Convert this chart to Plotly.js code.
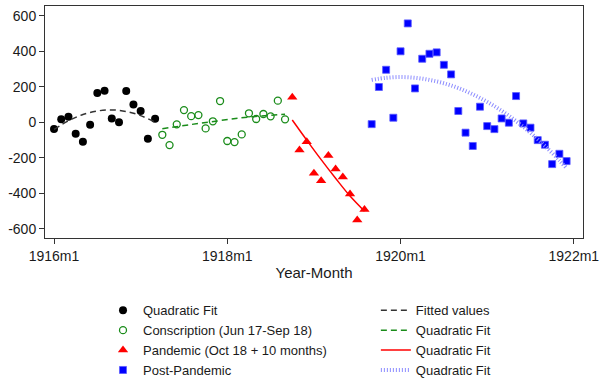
<!DOCTYPE html>
<html>
<head>
<meta charset="utf-8">
<script src="https://cdn.plot.ly/plotly-3.0.1.min.js"></script>
<style>html,body{margin:0;padding:0;background:#fff;}#chart{width:600px;height:379px;}</style>
</head>
<body>
<div id="chart"></div>
<script>
// Month index: 0 = 1916m1
var blackMonths = [0,1,2,3,4,5,6,7,8,9,10,11,12,13,14];
var blackValues = [-38,18,32,-64,-109,-13,165,178,22,0,176,101,64,-92,20];

var greenMonths = [15,16,17,18,19,20,21,22,23,24,25,26,27,28,29,30,31,32];
var greenValues = [-70,-128,-11,69,35,41,-34,6,120,-105,-111,-68,51,19,47,34,122,17];

var redMonths = [33,34,35,36,37,38,39,40,41,42,43];
var redValues = [141,-156,-109,-287,-329,-186,-263,-308,-404,-550,-490];

var blueMonths = [44,45,46,47,48,49,50,51,52,53,54,55,56,57,58,59,60,61,62,63,64,65,66,67,68,69,70,71];
var blueValues = [-10,199,296,26,400,557,191,358,386,394,324,270,64,-58,-133,88,-21,-38,22,-2,148,-6,-30,-100,-126,-235,-177,-218];

// Fitted curves
var blackFitMonths = [0,2,4,6,8,10,12,14];
var blackFitValues = [-40,9,44,64,70,61,38,1];
var greenFitMonths = [15,19,23,27,32];
var greenFitValues = [-36,-12,10,30,45];
var redFitMonths = [33,35,37,39,41,43];
var redFitValues = [13,-100,-210,-315,-415,-500];
var blueFitMonths = [44,46,48,50,52,54,56,58,60,62,64,66,68,70,71];
var blueFitValues = [239,251,255,251,239,220,193,158,115,65,7,-59,-133,-214,-259];

var xTickVals = [0,24,48,72];
var xTickText = ['1916m1','1918m1','1920m1','1922m1'];
var yTickVals = [-600,-400,-200,0,200,400,600];
var yTickText = ['-600','-400','-200','0','200','400','600'];

var FONT = 'Liberation Sans, Arial, Helvetica, sans-serif';

var traces = [
  {x: blackMonths, y: blackValues, type: 'scatter', mode: 'markers', name: 'Quadratic Fit', legend: 'legend',
   marker: {symbol: 'circle', size: 8, color: '#000000'}},
  {x: greenMonths, y: greenValues, type: 'scatter', mode: 'markers', name: 'Conscription (Jun 17-Sep 18)', legend: 'legend',
   marker: {symbol: 'circle-open', size: 7, color: '#1a8c1a', line: {width: 1.3, color: '#1a8c1a'}}},
  {x: redMonths, y: redValues, type: 'scatter', mode: 'markers', name: 'Pandemic (Oct 18 + 10 months)', legend: 'legend',
   marker: {symbol: 'triangle-up', size: 9, color: '#ff0000'}},
  {x: blueMonths, y: blueValues, type: 'scatter', mode: 'markers', name: 'Post-Pandemic', legend: 'legend',
   marker: {symbol: 'square', size: 7, color: '#0000ff', line: {width: 0.8, color: '#5a5aff'}}},
  {x: blackFitMonths, y: blackFitValues, type: 'scatter', mode: 'lines', name: 'Fitted values', legend: 'legend2',
   line: {color: '#333333', width: 1.5, dash: '6px,4px', shape: 'spline'}},
  {x: greenFitMonths, y: greenFitValues, type: 'scatter', mode: 'lines', name: 'Quadratic Fit', legend: 'legend2',
   line: {color: '#1a8c1a', width: 1.5, dash: '6px,4px', shape: 'spline'}},
  {x: redFitMonths, y: redFitValues, type: 'scatter', mode: 'lines', name: 'Quadratic Fit', legend: 'legend2',
   line: {color: '#ff0000', width: 1.5, shape: 'spline'}},
  {x: blueFitMonths, y: blueFitValues, type: 'scatter', mode: 'lines', name: 'Quadratic Fit', legend: 'legend2',
   line: {color: '#8c8cff', width: 4, dash: '1px,2px', shape: 'spline'}}
];

var legendCommon = {orientation: 'v', xanchor: 'left', y: -0.247, yanchor: 'top', traceorder: 'normal',
  font: {family: FONT, size: 13, color: '#1a1a1a'}, bgcolor: 'rgba(0,0,0,0)', borderwidth: 0};

var layout = {
  width: 600, height: 379,
  margin: {l: 45, r: 17, t: 6, b: 141, autoexpand: false},
  paper_bgcolor: '#ffffff', plot_bgcolor: '#ffffff',
  font: {family: FONT, size: 14, color: '#1a1a1a'},
  showlegend: true,
  legend: Object.assign({}, legendCommon, {x: 0.1078}),
  legend2: Object.assign({}, legendCommon, {x: 0.615}),
  xaxis: {range: [-1.25, 73.27], tickmode: 'array', tickvals: xTickVals, ticktext: xTickText,
          showgrid: false, zeroline: false, showline: true, mirror: true, linecolor: '#333333', linewidth: 1,
          ticks: 'outside', ticklen: 5, tickcolor: '#333333', tickfont: {size: 14},
          title: {text: 'Year-Month', font: {size: 15}, standoff: 4}},
  yaxis: {range: [-651, 655], tickmode: 'array', tickvals: yTickVals, ticktext: yTickText,
          showgrid: false, zeroline: false, showline: true, mirror: true, linecolor: '#333333', linewidth: 1,
          ticks: 'outside', ticklen: 5, tickcolor: '#333333', tickfont: {size: 14}}
};

Plotly.newPlot('chart', traces, layout, {displayModeBar: false, staticPlot: true});
</script>
</body>
</html>
